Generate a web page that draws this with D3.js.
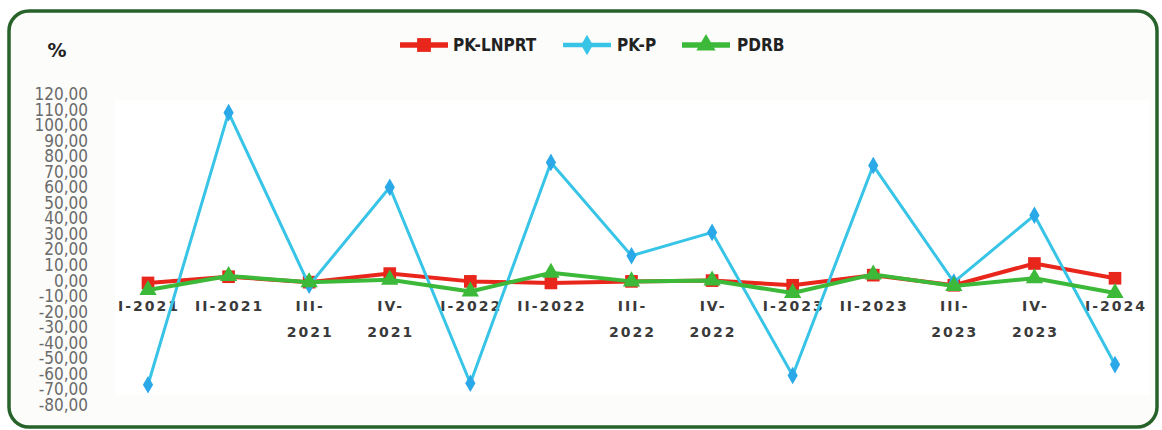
<!DOCTYPE html>
<html>
<head>
<meta charset="utf-8">
<script src="https://d3js.org/d3.v7.min.js"></script>
<style>
body { margin: 0; background: #ffffff; }
.ytick { font-family: "DejaVu Sans Condensed", "DejaVu Sans", sans-serif; font-size: 17px; fill: #6a6a6a; }
.xtick { font-family: "DejaVu Sans", sans-serif; font-size: 14px; font-weight: bold; fill: #3a3a3a; letter-spacing: 2px; }
.legend text { font-family: "DejaVu Sans Condensed", "DejaVu Sans", sans-serif; font-size: 17px; font-weight: bold; fill: #222; }
</style>
</head>
<body>
<div id="chart"></div>
<script>

// quarters
var categories = ["I-2021", "II-2021", "III-2021", "IV-2021", "I-2022", "II-2022", "III-2022",
                  "IV-2022", "I-2023", "II-2023", "III-2023", "IV-2023", "I-2024"];

// series values (%)
var pkLnprt = [-1.5, 2.5, -1, 4.5, -0.5, -1.5, -0.5, 0, -3, 3.5, -3, 11, 1.5];
var pkP     = [-67, 108, -3, 60, -66, 76, 16, 31, -61, 74, -1, 42, -54];
var pdrb    = [-6, 3, -1, 0.5, -7, 5, -0.5, 0, -8, 4, -3.5, 1.5, -8];

// y tick values
var yTicks = d3.range(-80, 121, 10);

var width = 1162, height = 430;

var svg = d3.select("#chart").append("svg")
  .attr("width", width)
  .attr("height", height);

// rounded frame
svg.append("rect")
  .attr("x", 9).attr("y", 11)
  .attr("width", 1148).attr("height", 416)
  .attr("rx", 20).attr("ry", 20)
  .attr("fill", "#fcfcfa")
  .attr("stroke", "#26622a")
  .attr("stroke-width", 3.5);

// plot area
svg.append("rect")
  .attr("x", 115).attr("y", 100)
  .attr("width", 1035).attr("height", 295)
  .attr("fill", "#ffffff");

var x = d3.scalePoint()
  .domain(categories)
  .range([148, 1115]);

var y = d3.scaleLinear()
  .domain([-80, 120])
  .range([405, 94]);

// y labels
var fmt = function(v) { return d3.format(".2f")(v).replace(".", ",").replace("−", "-"); };
svg.append("g")
  .selectAll("text")
  .data(yTicks)
  .enter()
  .append("text")
    .attr("class", "ytick")
    .attr("x", 88)
    .attr("y", function(d) { return y(d); })
    .attr("dy", "0.35em")
    .attr("text-anchor", "end")
    .text(fmt);

// "%" unit
svg.append("text")
  .attr("x", 57).attr("y", 57)
  .attr("text-anchor", "middle")
  .style("font-family", "DejaVu Sans, sans-serif")
  .style("font-size", "19px")
  .style("font-weight", "bold")
  .style("fill", "#222")
  .text("%");

// x labels (wrapped like the original)
var xg = svg.append("g");
categories.forEach(function(c) {
  var lines = (c.indexOf("III-") === 0 || c.indexOf("IV-") === 0) ? [c.split("-")[0] + "-", c.split("-")[1]] : [c];
  var t = xg.append("text")
    .attr("class", "xtick")
    .attr("text-anchor", "middle")
    .attr("x", x(c))
    .attr("y", 311);
  lines.forEach(function(l, i) {
    t.append("tspan").attr("x", x(c) + 1).attr("dy", i === 0 ? 0 : 26).text(l);
  });
});

var series = [
  {name: "PK-LNPRT", values: pkLnprt, color: "#e8261c", width: 4, marker: d3.symbolSquare, size: 160},
  {name: "PK-P",     values: pkP,     color: "#38c4e6", width: 3, marker: d3.symbolDiamond, size: 90},
  {name: "PDRB",     values: pdrb,    color: "#3db93a", width: 4, marker: d3.symbolTriangle, size: 130}
];

var line = d3.line()
  .x(function(d, i) { return x(categories[i]); })
  .y(function(d) { return y(d); });

series.forEach(function(s) {
  svg.append("path")
    .datum(s.values)
    .attr("fill", "none")
    .attr("stroke", s.color)
    .attr("stroke-width", s.width)
    .attr("stroke-linejoin", "round")
    .attr("d", line);
  svg.append("g")
    .selectAll("path")
    .data(s.values)
    .enter()
    .append("path")
      .attr("transform", function(d, i) { return "translate(" + x(categories[i]) + "," + y(d) + ")"; })
      .attr("d", d3.symbol().type(s.marker).size(s.size))
      .attr("fill", s.name === "PK-P" ? "#2aa8e8" : s.color);
});

// legend
var legendPos = [400, 563, 682];
var legendTextPos = [453, 617, 737];
var legend = svg.append("g").attr("class", "legend");
series.forEach(function(s, i) {
  legend.append("line")
    .attr("x1", legendPos[i]).attr("x2", legendPos[i] + 48)
    .attr("y1", 45).attr("y2", 45)
    .attr("stroke", s.color)
    .attr("stroke-width", s.width + 1.5);
  legend.append("path")
    .attr("transform", "translate(" + (legendPos[i] + 24) + ",45)")
    .attr("d", d3.symbol().type(s.marker).size(s.size + 30))
    .attr("fill", s.color);
  legend.append("text")
    .attr("x", legendTextPos[i]).attr("y", 51)
    .text(s.name);
});

</script>
</body>
</html>
